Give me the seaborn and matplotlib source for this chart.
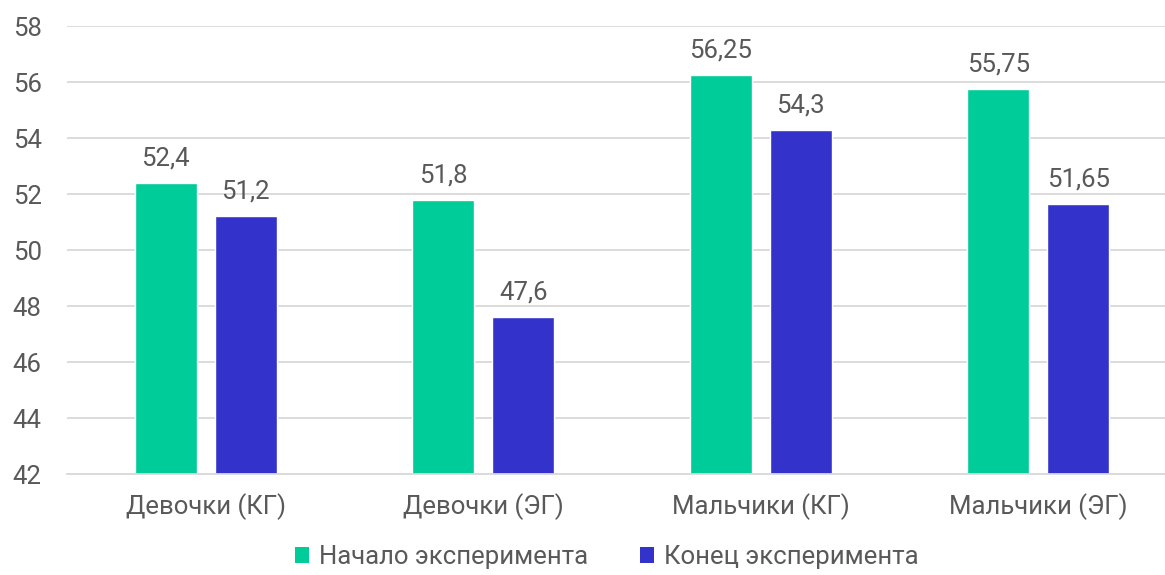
import matplotlib
matplotlib.use("Agg")
import matplotlib.pyplot as plt
import seaborn as sns
import pandas as pd
from matplotlib.patches import Patch

categories = ["Девочки (КГ)", "Девочки (ЭГ)", "Мальчики (КГ)", "Мальчики (ЭГ)"]
series_names = ["Начало эксперимента", "Конец эксперимента"]
start_values = [52.4, 51.8, 56.25, 55.75]
end_values = [51.2, 47.6, 54.3, 51.65]
start_labels = ["52,4", "51,8", "56,25", "55,75"]
end_labels = ["51,2", "47,6", "54,3", "51,65"]
y_ticks = [42, 44, 46, 48, 50, 52, 54, 56, 58]

colors = ["#00CC99", "#3333CC"]
text_color = "#595959"
fs = 18.5

sns.set_theme(style="white")
plt.rcParams["font.family"] = ["Roboto", "DejaVu Sans"]

df = pd.DataFrame({
    "cat": categories * 2,
    "series": [series_names[0]] * 4 + [series_names[1]] * 4,
    "val": start_values + end_values,
})

fig = plt.figure(figsize=(11.65, 5.75), dpi=100)
ax = fig.add_axes([67 / 1165, 101 / 575, 1110 / 1165, 448 / 575])

sns.barplot(data=df, x="cat", y="val", hue="series", order=categories,
            hue_order=series_names, palette=colors, width=0.577, gap=0.226,
            ax=ax, legend=False, saturation=1, errorbar=None)

ax.set_ylim(42, 58)
ax.set_xlim(-0.5, 3.5)
ax.set_yticks(y_ticks)
ax.set_yticklabels([str(t) for t in y_ticks])
ax.yaxis.grid(True, color="#D9D9D9", linewidth=1.3)
ax.set_axisbelow(True)
for s in ["top", "right", "left"]:
    ax.spines[s].set_visible(False)
ax.spines["bottom"].set_color("#D9D9D9")
ax.spines["bottom"].set_linewidth(1.3)
ax.tick_params(axis="both", length=0, colors=text_color, labelsize=fs)
ax.tick_params(axis="x", pad=14)
ax.tick_params(axis="y", pad=39)
for lbl in ax.get_yticklabels():
    lbl.set_horizontalalignment("left")
ax.set_xlabel("")
ax.set_ylabel("")

for container, labels in zip(ax.containers, [start_labels, end_labels]):
    ax.bar_label(container, labels=labels, padding=9, color=text_color, fontsize=fs)

handles = [Patch(facecolor=c, edgecolor="none") for c in colors]
fig.legend(handles, series_names, loc="lower center", bbox_to_anchor=(0.521, -0.03),
           ncol=2, frameon=False, fontsize=fs, labelcolor=text_color,
           handlelength=0.55, handleheight=0.55, handletextpad=0.4, columnspacing=2.0)

fig.savefig("out.png", dpi=100)
